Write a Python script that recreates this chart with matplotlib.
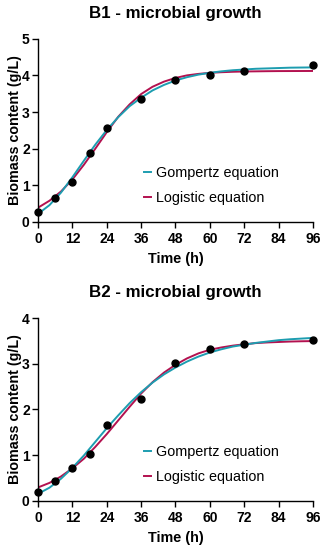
import matplotlib
matplotlib.use("Agg")
import matplotlib.pyplot as plt

plt.rcParams['font.family'] = ['Liberation Sans', 'DejaVu Sans']

# measured points (h, g/L)
time_pts = [0, 6, 12, 18, 24, 36, 48, 60, 72, 96]
b1_pts = [0.27, 0.66, 1.08, 1.89, 2.57, 3.35, 3.87, 4.01, 4.12, 4.27]
b2_pts = [0.19, 0.44, 0.72, 1.02, 1.65, 2.22, 3.01, 3.33, 3.43, 3.53]

# fitted curves, every 4 h
time_fit = [0, 4, 8, 12, 16, 20, 24, 28, 32, 36, 40, 44, 48,
            52, 56, 60, 64, 68, 72, 76, 80, 84, 88, 92, 96]
b1_gompertz = [0.22, 0.46, 0.80, 1.22, 1.67, 2.11, 2.51, 2.86, 3.16, 3.39, 3.59, 3.74, 3.86,
               3.95, 4.02, 4.07, 4.11, 4.14, 4.16, 4.18, 4.19, 4.20, 4.21, 4.214, 4.218]
b1_logistic = [0.39, 0.58, 0.83, 1.16, 1.56, 2.00, 2.45, 2.87, 3.21, 3.49, 3.69, 3.83, 3.93,
               4.00, 4.04, 4.07, 4.086, 4.098, 4.106, 4.11, 4.114, 4.117, 4.118, 4.119, 4.12]
b2_gompertz = [0.15, 0.285, 0.48, 0.72, 0.99, 1.29, 1.59, 1.87, 2.14, 2.38, 2.59, 2.77, 2.92,
               3.05, 3.16, 3.25, 3.32, 3.38, 3.42, 3.46, 3.49, 3.52, 3.54, 3.555, 3.57]
b2_logistic = [0.29, 0.39, 0.53, 0.71, 0.92, 1.18, 1.46, 1.76, 2.06, 2.35, 2.60, 2.81, 2.98,
               3.12, 3.23, 3.31, 3.36, 3.40, 3.43, 3.456, 3.47, 3.48, 3.49, 3.496, 3.50]

panels = [
    ("B1 - microbial growth", b1_pts, b1_gompertz, b1_logistic, 5, [0.5964, 0.3332]),
    ("B2 - microbial growth", b2_pts, b2_gompertz, b2_logistic, 4, [0.0897, 0.3316]),
]

TEAL = "#1d9db0"
CRIMSON = "#b3114f"

fig = plt.figure(figsize=(3.25, 5.5), dpi=100)

for title, pts, gomp, logi, ymax, (bottom, height) in panels:
    ax = fig.add_axes([0.117, bottom, 0.846, height])
    ax.plot(time_fit, logi, color=CRIMSON, lw=1.4, label="Logistic equation", zorder=2)
    ax.plot(time_fit, gomp, color=TEAL, lw=1.4, label="Gompertz equation", zorder=3)
    ax.plot(time_pts, pts, 'o', color='black', ms=5, zorder=4, clip_on=False)

    ax.set_xlim(0, 96)
    ax.set_ylim(0, ymax)
    ax.set_xticks(range(0, 97, 12))
    ax.set_yticks(range(0, ymax + 1))
    ax.spines['top'].set_visible(False)
    ax.spines['right'].set_visible(False)
    for s in ('left', 'bottom'):
        ax.spines[s].set_linewidth(1.0)
    ax.tick_params(direction='out', length=4, width=1.0, labelsize=10, pad=2)
    ax.tick_params(axis='x', pad=3.5)
    for lab in ax.get_xticklabels() + ax.get_yticklabels():
        lab.set_fontweight('bold')

    ax.set_xlabel("Time (h)", fontsize=10.4, fontweight='bold', labelpad=4)
    ax.set_ylabel("Biomass content (g/L)", fontsize=10.3, fontweight='bold', labelpad=0)
    ax.set_title(title, fontsize=12.2, fontweight='bold', pad=15)

    handles, labels = ax.get_legend_handles_labels()
    ax.legend(handles[::-1], labels[::-1], loc='center left', bbox_to_anchor=(0.385, 0.2),
              frameon=False, fontsize=10.4, handlelength=0.5, handletextpad=0.35,
              labelspacing=0.75, borderaxespad=0, borderpad=0)

fig.savefig("out.png", dpi=100)
